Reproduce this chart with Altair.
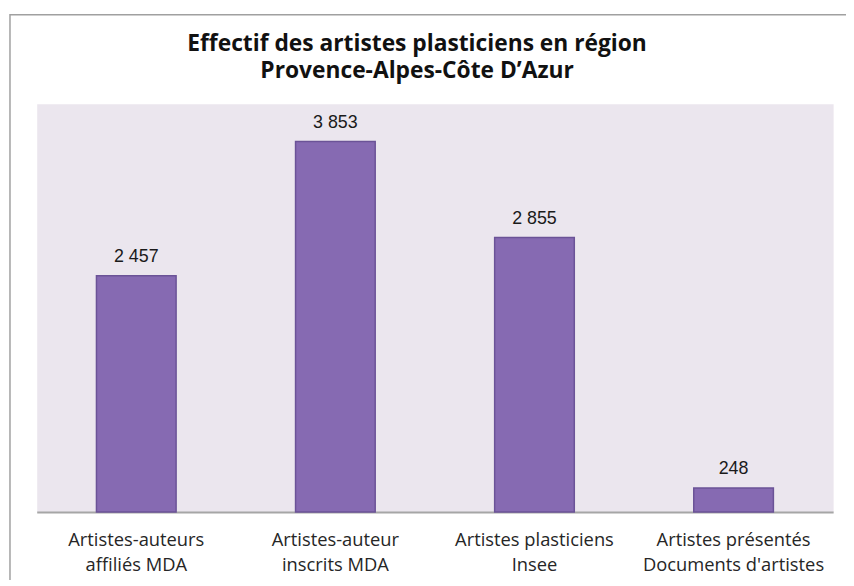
import altair as alt
import pandas as pd

categories = ["Artistes-auteurs|affiliés MDA", "Artistes-auteur|inscrits MDA",
              "Artistes plasticiens|Insee", "Artistes présentés|Documents d'artistes"]
values = [2457, 3853, 2855, 248]
value_labels = ["2 457", "3 853", "2 855", "248"]

df = pd.DataFrame({"cat": categories, "val": values, "lab": value_labels})

x = alt.X("cat:N", sort=categories, title=None,
          scale=alt.Scale(paddingInner=0.6, paddingOuter=0.3),
          axis=alt.Axis(labelExpr="split(datum.label, '|')", labelAngle=0, ticks=False,
                        labelPadding=19, labelFont="Open Sans", labelFontSize=18.5,
                        labelColor="#262626", labelLineHeight=25, labelBaseline="top",
                        labelLimit=400,
                        domainColor="#A6A6A6", domainWidth=2))
y = alt.Y("val:Q", title=None, scale=alt.Scale(domain=[0, 4244], nice=False), axis=None)

bars = alt.Chart(df).mark_bar(color="#866AB2", stroke="#6B5397", strokeWidth=1.5).encode(x=x, y=y)
texts = alt.Chart(df).mark_text(dy=-14, baseline="alphabetic", font="Liberation Sans",
                                fontSize=18, color="#1a1a1a").encode(x=x, y=y, text="lab:N")

border = alt.Chart(pd.DataFrame({"a": [0]})).mark_rect(
    fill=None, stroke="#A0A0A0", strokeWidth=1.5, clip=False
).encode(x=alt.value(-27), x2=alt.value(860), y=alt.value(-90), y2=alt.value(520))

chart = alt.layer(border, bars, texts).properties(
    width=804, height=412,
    autosize=alt.AutoSizeParams(type="none"),
    padding={"left": 29, "top": 94, "right": 13, "bottom": 66},
    background="white",
    title=alt.TitleParams(
        ["Effectif des artistes plasticiens en région", "Provence-Alpes-Côte D’Azur"],
        font="Open Sans", fontSize=23, fontWeight="bold", color="#111111",
        lineHeight=28, baseline="bottom", offset=0, dy=93, anchor="middle", dx=-18)
).configure_view(fill="#EBE6EE", stroke="transparent")

chart.save("out.html", embed_options={"renderer": "svg", "actions": False})
